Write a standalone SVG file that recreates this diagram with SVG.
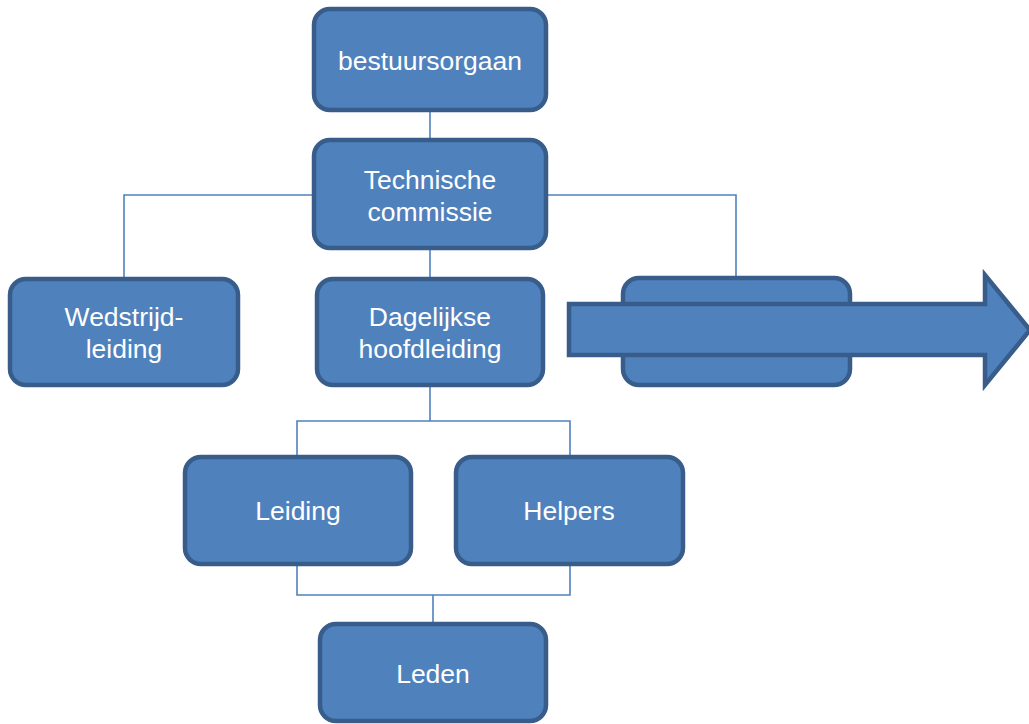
<svg xmlns="http://www.w3.org/2000/svg" width="1029" height="724" viewBox="0 0 1029 724">
  <style>
    .box { fill: #4f81bd; stroke: #385d8a; stroke-width: 4.5; }
    .lbl { fill: #ffffff; font-family: "Liberation Sans", Arial, sans-serif; font-size: 26.5px; text-anchor: middle; }
    .link { fill: none; stroke: #4f81bd; stroke-width: 1.6; }
  </style>
  <rect width="1029" height="724" fill="#ffffff"/>

  <!-- connectors -->
  <g id="connectors">
    <path class="link" d="M430,111 V140"/>
    <path class="link" d="M314,195 H124 V279"/>
    <path class="link" d="M546,195 H736 V279"/>
    <path class="link" d="M430,248 V279"/>
    <path class="link" d="M430,385 V421 M297,457 V421 H570 V457"/>
    <path class="link" d="M297,564 V595 H570 V564 M433,595 V626"/>
  </g>

  <g id="bestuursorgaan">
    <rect class="box" x="314" y="9" width="232" height="101" rx="16"/>
    <text class="lbl" x="430" y="70">bestuursorgaan</text>
  </g>

  <g id="technische-commissie">
    <rect class="box" x="314" y="140" width="232" height="108" rx="16"/>
    <text class="lbl" x="430" y="189">Technische</text>
    <text class="lbl" x="430" y="221">commissie</text>
  </g>

  <g id="wedstrijdleiding">
    <rect class="box" x="10" y="279" width="228" height="106" rx="16"/>
    <text class="lbl" x="124" y="326">Wedstrijd-</text>
    <text class="lbl" x="124" y="358">leiding</text>
  </g>

  <g id="dagelijkse-hoofdleiding">
    <rect class="box" x="317" y="279" width="226" height="106" rx="16"/>
    <text class="lbl" x="430" y="326">Dagelijkse</text>
    <text class="lbl" x="430" y="358">hoofdleiding</text>
  </g>

  <g id="rechter-tak">
    <rect class="box" x="623" y="278" width="227" height="107" rx="16"/>
  </g>

  <g id="pijl">
    <polygon class="box" points="569,304 985,304 985,275 1030,330 985,385 985,355 569,355"/>
  </g>

  <g id="leiding">
    <rect class="box" x="185" y="457" width="226" height="107" rx="16"/>
    <text class="lbl" x="298" y="520">Leiding</text>
  </g>

  <g id="helpers">
    <rect class="box" x="456" y="457" width="227" height="107" rx="16"/>
    <text class="lbl" x="569" y="520">Helpers</text>
  </g>

  <g id="leden">
    <rect class="box" x="320" y="624" width="226" height="97" rx="16"/>
    <text class="lbl" x="433" y="683">Leden</text>
  </g>
</svg>
